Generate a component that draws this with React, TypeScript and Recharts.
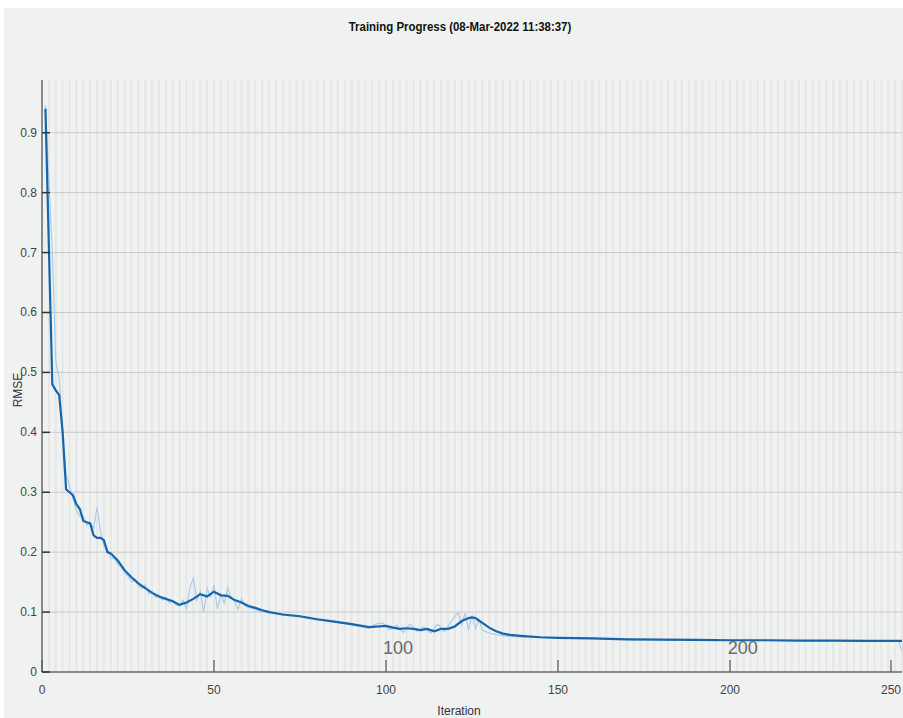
import { LineChart, Line, XAxis, YAxis, ReferenceLine, ReferenceDot } from "recharts"

const FONT = '"Liberation Sans", Arial, sans-serif'

const xTicks = [0, 50, 100, 150, 200, 250]
const yTicks = [0, 0.1, 0.2, 0.3, 0.4, 0.5, 0.6, 0.7, 0.8, 0.9]
// vertical stripes, one per 2 iterations
const gridIters = Array.from({ length: 126 }, (_, i) => i * 2)

// smoothed RMSE (dark line)
const smoothIter = [
  1, 2, 3, 4, 5, 6, 7, 8, 9, 10, 11, 12, 13, 14, 15, 16, 17, 18, 19, 20, 22, 24, 26, 28, 30, 32, 34, 36, 38,
  40, 42, 44, 46, 48, 50, 52, 54, 56, 58, 60, 62, 64, 66, 68, 70, 75, 80, 85, 90, 95, 98, 100, 102, 104, 106,
  108, 110, 112, 114, 116, 118, 120, 122, 124, 125, 126, 128, 130, 132, 134, 136, 140, 145, 150, 160, 170,
  180, 190, 200, 210, 220, 230, 240, 250,
]
const smoothRmse = [
  0.94, 0.71, 0.48, 0.47, 0.462, 0.4, 0.305, 0.3, 0.295, 0.28, 0.272, 0.252, 0.25, 0.248, 0.228, 0.224, 0.224,
  0.22, 0.2, 0.198, 0.186, 0.17, 0.158, 0.148, 0.14, 0.132, 0.126, 0.122, 0.118, 0.112, 0.116, 0.122, 0.13,
  0.126, 0.134, 0.128, 0.127, 0.12, 0.116, 0.11, 0.107, 0.103, 0.1, 0.098, 0.096, 0.093, 0.088, 0.084, 0.08,
  0.075, 0.076, 0.077, 0.074, 0.072, 0.073, 0.072, 0.07, 0.072, 0.068, 0.072, 0.072, 0.076, 0.085, 0.09,
  0.091, 0.09, 0.082, 0.074, 0.068, 0.064, 0.062, 0.06, 0.058, 0.057, 0.056, 0.0545, 0.054, 0.0535, 0.053,
  0.053, 0.0525, 0.0525, 0.052, 0.052,
]

// raw RMSE per iteration (light line)
const rawIter = [
  1, 2, 3, 4, 5, 6, 7, 8, 9, 10, 11, 12, 13, 14, 15, 16, 17, 18, 19, 20, 21, 22, 23, 24, 25, 26, 27, 28, 29,
  30, 31, 32, 33, 34, 35, 36, 37, 38, 39, 40, 41, 42, 43, 44, 45, 46, 47, 48, 49, 50, 51, 52, 53, 54, 55, 56,
  57, 58, 59, 60, 62, 64, 66, 68, 70, 75, 80, 85, 90, 95, 97, 99, 101, 103, 105, 107, 109, 111, 113, 115, 117,
  119, 121, 122, 123, 124, 125, 126, 127, 128, 130, 132, 135, 140, 150, 160, 170, 180, 190, 200, 210, 220, 230,
  240, 249, 250,
]
const rawRmse = [
  0.945, 0.82, 0.7, 0.52, 0.49, 0.4, 0.33, 0.31, 0.29, 0.27, 0.26, 0.26, 0.245, 0.25, 0.24, 0.275, 0.235, 0.21,
  0.205, 0.19, 0.19, 0.18, 0.175, 0.165, 0.16, 0.15, 0.155, 0.145, 0.14, 0.145, 0.13, 0.135, 0.125, 0.128,
  0.12, 0.125, 0.115, 0.12, 0.112, 0.11, 0.12, 0.105, 0.14, 0.158, 0.12, 0.135, 0.1, 0.14, 0.125, 0.145, 0.105,
  0.13, 0.115, 0.14, 0.125, 0.118, 0.105, 0.122, 0.11, 0.108, 0.105, 0.1, 0.102, 0.097, 0.095, 0.092, 0.087,
  0.083, 0.079, 0.073, 0.08, 0.082, 0.07, 0.078, 0.066, 0.08, 0.068, 0.075, 0.065, 0.08, 0.067, 0.085, 0.1,
  0.078, 0.098, 0.07, 0.095, 0.072, 0.088, 0.07, 0.065, 0.062, 0.06, 0.058, 0.057, 0.056, 0.0545, 0.054, 0.0535,
  0.053, 0.053, 0.0525, 0.0525, 0.052, 0.052, 0.035,
]

const smoothData = smoothIter.map((iter, i) => ({ iter, rmse: smoothRmse[i] }))
const rawData = rawIter.map((iter, i) => ({ iter, rmse: rawRmse[i] }))

const XTick = ({ x, y, payload }: any) => (
  <g>
    <line x1={x} x2={x} y1={y} y2={y - 12} stroke="#555" strokeWidth={1.2} />
    <text x={x} y={y + 22} textAnchor="middle" fontSize={12} fill="#444" fontFamily={FONT}>
      {payload.value}
    </text>
  </g>
)

const YTick = ({ x, y, payload }: any) => (
  <g>
    <line x1={x} x2={x + 8} y1={y} y2={y} stroke="#333" strokeWidth={1.5} />
    <text x={x - 5} y={y + 4} textAnchor="end" fontSize={12} fill="#444" fontFamily={FONT}>
      {payload.value}
    </text>
  </g>
)

export default function App() {
  return (
    <div style={{ position: "relative", width: 903, height: 718, background: "#fff", overflow: "hidden" }}>
      <style>{"body{margin:0}"}</style>
      <div style={{ position: "absolute", left: 4, top: 8, right: 0, bottom: 0, background: "#f0f1f1" }} />
      <div
        style={{
          position: "absolute",
          left: 0,
          width: 920,
          top: 19,
          textAlign: "center",
          fontFamily: FONT,
          fontWeight: "bold",
          fontSize: 13,
          color: "#111",
          transform: "scaleX(0.88)",
        }}
      >
        Training Progress (08-Mar-2022 11:38:37)
      </div>
      <div
        style={{
          position: "absolute",
          left: 10,
          top: 390,
          transform: "translate(-50%, -50%) rotate(-90deg)",
          transformOrigin: "center",
          marginLeft: 8,
          fontFamily: FONT,
          fontSize: 12,
          color: "#333",
        }}
      >
        RMSE
      </div>
      <div
        style={{
          position: "absolute",
          left: 0,
          width: 918,
          top: 704,
          textAlign: "center",
          fontFamily: FONT,
          fontSize: 12,
          color: "#333",
        }}
      >
        Iteration
      </div>
      <LineChart
        width={903}
        height={718}
        margin={{ top: 80, right: 1, left: 0, bottom: 0 }}
        style={{ position: "absolute", left: 0, top: 0 }}
      >
        <XAxis
          dataKey="iter"
          type="number"
          domain={[0, 250]}
          ticks={xTicks}
          allowDataOverflow
          height={46}
          tickSize={0}
          tickMargin={0}
          tick={<XTick />}
          axisLine={{ stroke: "#8a8a8a", strokeWidth: 2 }}
          tickLine={false}
        />
        <YAxis
          dataKey="rmse"
          type="number"
          domain={[0, 0.988]}
          ticks={yTicks}
          allowDataOverflow
          width={42}
          tickSize={0}
          tickMargin={0}
          tick={<YTick />}
          axisLine={{ stroke: "#8a8a8a", strokeWidth: 2 }}
          tickLine={false}
        />
        {gridIters.map((g) => (
          <ReferenceLine key={"v" + g} x={g} stroke="#e6e6e6" strokeWidth={2} />
        ))}
        {yTicks.slice(1).map((t) => (
          <ReferenceLine key={"h" + t} y={t} stroke="#c9c9c9" strokeWidth={1} />
        ))}
        <ReferenceDot
          x={103.5}
          y={0.04}
          r={1}
          fill="none"
          stroke="none"
          label={{ value: "100", position: "center", fill: "#6a6a6a", fontSize: 18, fontFamily: FONT }}
        />
        <ReferenceDot
          x={203.7}
          y={0.04}
          r={1}
          fill="none"
          stroke="none"
          label={{ value: "200", position: "center", fill: "#6a6a6a", fontSize: 18, fontFamily: FONT }}
        />
        <Line
          data={rawData}
          dataKey="rmse"
          type="linear"
          stroke="#a9cde9"
          strokeWidth={1.2}
          dot={false}
          isAnimationActive={false}
        />
        <Line
          data={smoothData}
          dataKey="rmse"
          type="linear"
          stroke="#1466ad"
          strokeWidth={2.2}
          dot={false}
          isAnimationActive={false}
        />
      </LineChart>
    </div>
  )
}
